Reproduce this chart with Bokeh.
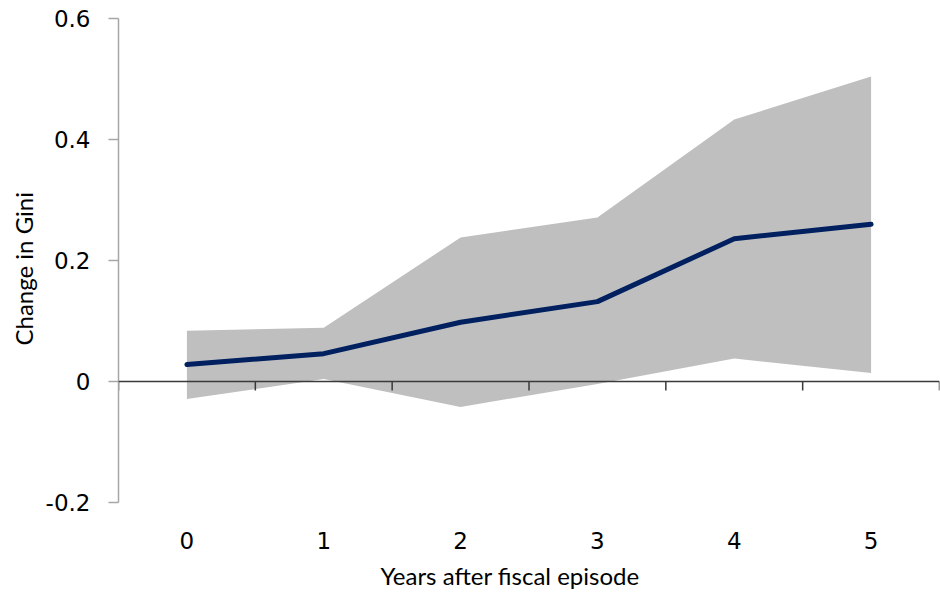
from bokeh.plotting import figure
from bokeh.models import FixedTicker, Span, Range1d, Title
from bokeh.embed import file_html
from bokeh.resources import INLINE

years = [0, 1, 2, 3, 4, 5]
estimate = [0.028, 0.046, 0.098, 0.132, 0.236, 0.260]
upper = [0.084, 0.089, 0.238, 0.271, 0.433, 0.504]
lower = [-0.029, 0.004, -0.042, -0.004, 0.038, 0.014]
y_ticks = [-0.2, 0.0, 0.2, 0.4, 0.6]
y_tick_labels = ["-0.2", "0", "0.2", "0.4", "0.6"]
x_title = "Years after fiscal episode"
y_title = "Change in Gini"

TICK_FONT = "DejaVu Sans"
TITLE_FONT = "Lato"
FS = "23px"
TFS = "24px"

p = figure(width=940, height=598, output_backend="svg", toolbar_location=None,
           x_range=Range1d(-0.5, 5.5), y_range=Range1d(-0.2, 0.6),
           min_border_left=118, min_border_right=1, min_border_top=18, min_border_bottom=96)
p.outline_line_color = None
p.xgrid.visible = False
p.ygrid.visible = False
p.background_fill_color = "white"
p.border_fill_color = "white"

# confidence band
p.varea(x=years, y1=lower, y2=upper, fill_color="#bfbfbf", fill_alpha=1.0)

# zero axis line with ticks at category boundaries
p.add_layout(Span(location=0, dimension="width", line_color="#3a3a3a", line_width=1.5))
bounds = [y - 0.5 for y in years] + [years[-1] + 0.5]
tick_len = 9 / (484 / 0.8)
p.segment(x0=bounds, y0=[0] * len(bounds), x1=bounds, y1=[-tick_len] * len(bounds),
          line_color="#3a3a3a", line_width=1.5)

p.line(x=years, y=estimate, line_color="#002060", line_width=5, line_cap="round", line_join="round")

# y axis
ya = p.yaxis[0]
ya.ticker = FixedTicker(ticks=y_ticks)
ya.major_label_overrides = {t: l for t, l in zip(y_ticks, y_tick_labels)}
ya.axis_line_color = "#a6a6a6"
ya.axis_line_width = 1.5
ya.major_tick_line_color = "#a6a6a6"
ya.major_tick_line_width = 1.5
ya.major_tick_out = 10
ya.major_tick_in = 0
ya.minor_tick_line_color = None
ya.major_label_standoff = 18
ya.major_label_text_font = TICK_FONT
ya.major_label_text_font_size = FS
ya.major_label_text_color = "black"

# x axis (labels only)
xa = p.xaxis[0]
xa.ticker = FixedTicker(ticks=years)
xa.axis_line_color = None
xa.major_tick_line_color = None
xa.minor_tick_line_color = None
xa.major_tick_out = 0
xa.major_tick_in = 0
xa.major_label_standoff = 29
xa.major_label_text_font = TICK_FONT
xa.major_label_text_font_size = FS
xa.major_label_text_color = "black"
xa.major_label_text_line_height = 0.8

# axis titles
p.add_layout(Title(text=x_title, align="left", offset=262, standoff=15,
                   text_font=TITLE_FONT, text_font_size=TFS, text_font_style="normal",
                   text_line_height=0.8, text_color="black"), "below")
p.add_layout(Title(text=y_title, align="left", offset=157, standoff=10,
                   text_font=TITLE_FONT, text_font_size=TFS, text_font_style="normal",
                   text_color="black"), "left")

open("out.html", "w").write(file_html(p, INLINE))
